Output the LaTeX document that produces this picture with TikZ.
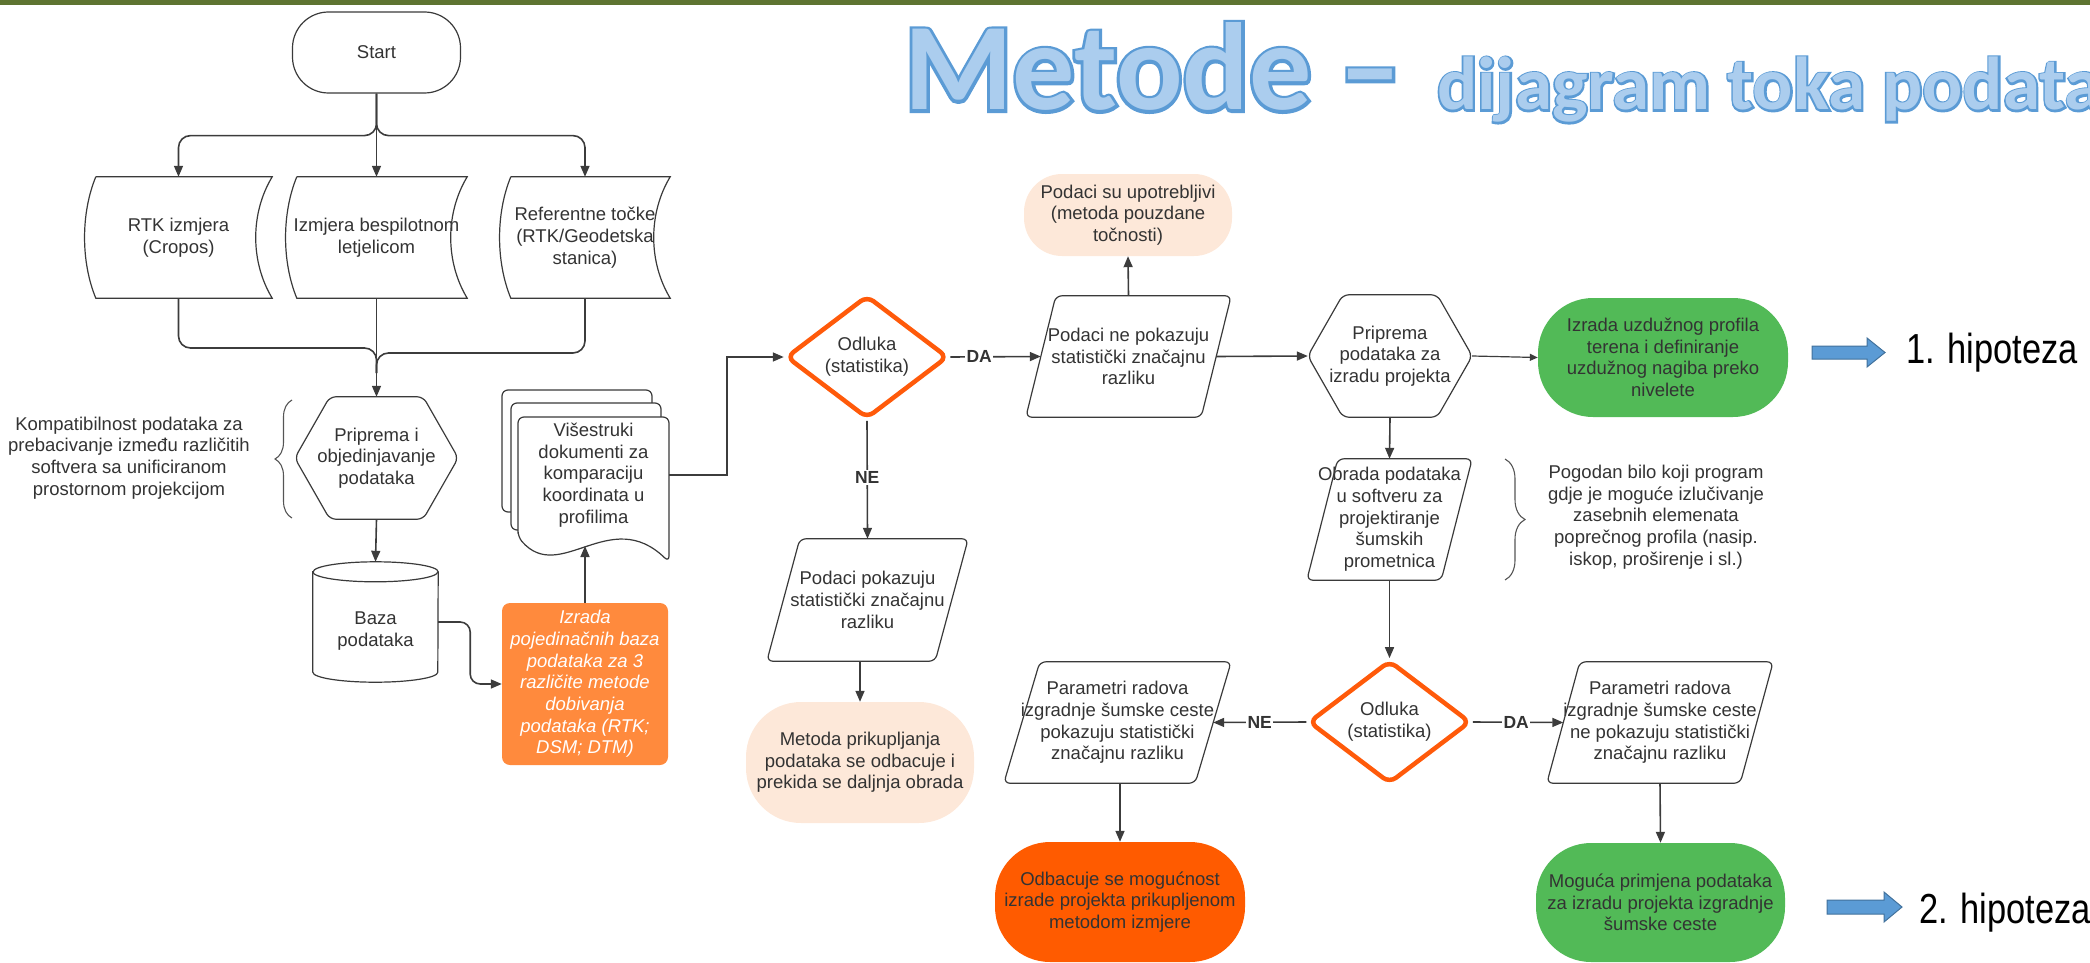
\documentclass[tikz,border=0pt]{standalone}
\usepackage{fontspec}
\setmainfont{Liberation Sans}
\newfontfamily\hipfont{Liberation Sans}[FakeStretch=0.82]
\newfontfamily\titlefillfont{Carlito}
\newfontfamily\titlelinefont{Carlito}[BoldFeatures={FakeBold=5}]
\usetikzlibrary{arrows.meta,shapes.geometric,decorations.pathreplacing,calc}
\pgfdeclarelayer{bg}
\pgfsetlayers{bg,main}
\definecolor{txtc}{HTML}{333333}
\definecolor{linec}{HTML}{3C3C3C}
\definecolor{shapec}{HTML}{3A3A3A}
\definecolor{barc}{HTML}{5E7431}
\definecolor{peach}{HTML}{FDE8D9}
\definecolor{orgbox}{HTML}{FF8A3D}
\definecolor{orgdark}{HTML}{FF5B00}
\definecolor{orgline}{HTML}{FF5A0A}
\definecolor{greenc}{HTML}{52BA57}
\definecolor{tfill}{HTML}{ABCDEE}
\definecolor{tline}{HTML}{5B9BD5}
\definecolor{arrfill}{HTML}{5B9BD5}
\definecolor{arrline}{HTML}{41719C}
\definecolor{bracec}{HTML}{555555}
\tikzset{
 txt/.style={font=\fontsize{18.5}{21.7}\selectfont, text=txtc, align=center, inner sep=0pt},
 shapeline/.style={draw=shapec, line width=1.2pt},
 conn/.style={draw=linec, line width=1.6pt, -{Triangle[length=11pt,width=9pt]}},
 connsmall/.style={draw=linec, line width=1.2pt, -{Triangle[length=8pt,width=7pt]}},
 plainline/.style={draw=linec, line width=1.6pt},
 lbl/.style={font=\fontsize{17.5}{20}\selectfont\bfseries, text=txtc, fill=white, inner sep=1.5pt},
 decide/.style={txt, diamond, draw=orgline, line width=4.5pt, rounded corners=8pt, minimum width=162pt, minimum height=120pt, fill=white},
 bracestyle/.style={draw=bracec, line width=1.1pt, decorate, decoration={brace, amplitude=#1, aspect=0.5}},
 blockarrow/.style={fill=arrfill, draw=arrline, line width=1pt},
 hiptext/.style={anchor=base west, inner sep=0pt, text=black, font=\hipfont\fontsize{42}{44}\selectfont},
 titlebase/.style={anchor=base west, inner sep=0pt},
}
\newcommand\storeddata[1]{\draw[shapeline] ([xshift=11pt]#1.north west) -- (#1.north east)
 .. controls ($(#1.north east)!0.3!(#1.south east)+(-22,0)$) and ($(#1.north east)!0.7!(#1.south east)+(-22,0)$) .. (#1.south east)
 -- ([xshift=11pt]#1.south west)
 .. controls ($(#1.south west)!0.3!(#1.north west)+(-4,0)$) and ($(#1.south west)!0.7!(#1.north west)+(-4,0)$) .. ([xshift=11pt]#1.north west);}
\newcommand\hexshape[2]{\draw[shapeline, rounded corners=6pt] (#1.west) -- ([xshift=#2]#1.north west) -- ([xshift=-#2]#1.north east) -- (#1.east) -- ([xshift=-#2]#1.south east) -- ([xshift=#2]#1.south west) -- cycle;}
\newcommand\plgshape[2]{\draw[shapeline, rounded corners=6pt] ([xshift=#2]#1.north west) -- (#1.north east) -- ([xshift=-#2]#1.south east) -- (#1.south west) -- cycle;}
\begin{document}
\begin{tikzpicture}[x=1pt,y=-1pt]
\useasboundingbox (0,0) rectangle (2090,963);
\clip (0,0) rectangle (2090,963);
\fill[barc] (0,0) rectangle (2090,5);

% title
\node[titlebase, text=tline] (titleAline) at (904,110) {\titlelinefont\bfseries\fontsize{124}{130}\selectfont Metode –};
\node[titlebase, text=tfill] (titleA) at (904,110) {\titlefillfont\bfseries\fontsize{124}{130}\selectfont Metode –};
\node[titlebase, text=tline] (titleBline) at (1437,110) {\titlelinefont\bfseries\fontsize{75}{80}\selectfont dijagram toka podata};
\node[titlebase, text=tfill] (titleB) at (1437,110) {\titlefillfont\bfseries\fontsize{75}{80}\selectfont dijagram toka podata};

% left column
\node[txt, shapeline, rounded corners=36pt, minimum width=168pt, minimum height=81pt] (start) at (376.5,52.5) {Start};
\node[txt, minimum width=187pt, minimum height=121pt] (rtk) at (178.5,237.5) {RTK izmjera\\(Cropos)};
\node[txt, minimum width=181pt, minimum height=121pt] (uav) at (376.5,237.5) {Izmjera bespilotnom\\letjelicom};
\node[txt, minimum width=170pt, minimum height=121pt] (ref) at (585,237.5) {Referentne točke\\(RTK/Geodetska\\stanica)};
\storeddata{rtk}
\storeddata{uav}
\storeddata{ref}

\node[txt, minimum width=163pt, minimum height=122pt] (prep) at (376.5,458) {Priprema i\\objedinjavanje\\podataka};
\hexshape{prep}{35pt}
\node[txt] (note1) at (129,458) {Kompatibilnost podataka za\\prebacivanje između različitih\\softvera sa unificiranom\\prostornom projekcijom};
\draw[bracestyle=17pt] (292,518) -- (292,400);

\node[txt, minimum width=125pt, minimum height=120pt] (baza) at (375.5,622) {};
\node[txt] (bazatxt) at (375.5,631) {Baza\\podataka};
\begin{pgfonlayer}{bg}
\draw[shapeline, fill=white] ([yshift=-10pt]baza.north west) -- ([yshift=10pt]baza.south west) arc[start angle=180, end angle=0, x radius=62.5, y radius=10] -- ([yshift=-10pt]baza.north east) arc[start angle=0, end angle=-180, x radius=62.5, y radius=10] -- cycle;
\draw[shapeline] ([yshift=-10pt]baza.north west) arc[start angle=180, end angle=0, x radius=62.5, y radius=10];
\end{pgfonlayer}

\node[txt, fill=orgbox, rounded corners=8pt, minimum width=166pt, minimum height=162pt, text=white, font=\fontsize{18.5}{21.7}\selectfont\itshape] (izrada) at (585,684) {Izrada\\pojedinačnih baza\\podataka za 3\\različite metode\\dobivanja\\podataka (RTK;\\DSM; DTM)};

\node[txt, minimum width=151pt, minimum height=116pt] (multi) at (593.5,475) {Višestruki\\dokumenti za\\komparaciju\\koordinata u\\profilima};
\begin{pgfonlayer}{bg}
\draw[shapeline, fill=white, rounded corners=6pt] (502,512) -- (502,390) -- (652,390) -- (652,512) -- cycle;
\draw[shapeline, fill=white, rounded corners=6pt] (511,530) -- (511,403) -- (661,403) -- (661,530) -- cycle;
\draw[shapeline, fill=white, rounded corners=6pt] (518,537) -- (518,417) -- (669,417) -- (669,562) .. controls (610,505) and (560,585) .. (518,537) -- cycle;
\end{pgfonlayer}
\coordinate (wave) at (585,546);

% middle
\node[decide] (d1) at (867,357) {Odluka\\(statistika)};
\node[txt, minimum width=205pt, minimum height=121pt] (p1) at (1128.5,356.5) {Podaci ne pokazuju\\statistički značajnu\\razliku};
\plgshape{p1}{30pt}
\node[txt, fill=peach, rounded corners=38pt, minimum width=208pt, minimum height=82pt] (upo) at (1128,215) {Podaci su upotrebljivi\\(metoda pouzdane\\točnosti)};
\node[txt, minimum width=201pt, minimum height=122pt] (p2) at (867.5,600) {Podaci pokazuju\\statistički značajnu\\razliku};
\plgshape{p2}{33pt}
\node[txt, fill=peach, rounded corners=55pt, minimum width=228pt, minimum height=121pt] (metoda) at (860,762.5) {Metoda prikupljanja\\podataka se odbacuje i\\prekida se daljnja obrada};

% right
\node[txt, minimum width=164pt, minimum height=122pt] (hex2) at (1390,356) {Priprema\\podataka za\\izradu projekta};
\hexshape{hex2}{35pt}
\node[txt, fill=greenc, rounded corners=55pt, minimum width=250pt, minimum height=119pt] (g1) at (1663,357.5) {Izrada uzdužnog profila\\terena i definiranje\\uzdužnog nagiba preko\\nivelete};
\node[txt, minimum width=165pt, minimum height=121pt] (p3) at (1389.5,519.5) {Obrada podataka\\u softveru za\\projektiranje\\šumskih\\prometnica};
\plgshape{p3}{31pt}
\node[txt] (note2) at (1656,517) {Pogodan bilo koji program\\gdje je moguće izlučivanje\\zasebnih elemenata\\poprečnog profila (nasip.\\iskop, proširenje i sl.)};
\draw[bracestyle=20pt] (1505,459) -- (1505,580);
\node[decide] (d2) at (1389.5,722) {Odluka\\(statistika)};
\node[txt, minimum width=227pt, minimum height=121pt] (p4) at (1117.5,722.5) {Parametri radova\\izgradnje šumske ceste\\pokazuju statistički\\značajnu razliku};
\plgshape{p4}{36pt}
\node[txt, minimum width=226pt, minimum height=121pt] (p5) at (1660,722.5) {Parametri radova\\izgradnje šumske ceste\\ne pokazuju statistički\\značajnu razliku};
\plgshape{p5}{33pt}
\node[txt, fill=orgdark, rounded corners=55pt, minimum width=250pt, minimum height=120pt] (odb) at (1120,902) {Odbacuje se mogućnost\\izrade projekta prikupljenom\\metodom izmjere};
\node[txt, fill=greenc, rounded corners=55pt, minimum width=249pt, minimum height=119pt] (g2) at (1660.5,902.5) {Moguća primjena podataka\\za izradu projekta izgradnje\\šumske ceste};

% hypotheses
\draw[blockarrow] (1812,346) -- (1867,346) -- (1867,338) -- (1885,352.5) -- (1867,367) -- (1867,359) -- (1812,359) -- cycle;
\node[hiptext] (hip1) at (1906,363) {1. hipoteza};
\draw[blockarrow] (1827,900) -- (1884,900) -- (1884,892) -- (1902,907) -- (1884,922) -- (1884,914) -- (1827,914) -- cycle;
\node[hiptext] (hip2) at (1919,923) {2. hipoteza};

% connectors
\draw[conn, rounded corners=12pt] (start.south) -- ++(0,42) -| (rtk.north);
\draw[conn, rounded corners=12pt] (start.south) -- ++(0,42) -| (ref.north);
\draw[conn] (start.south) -- (uav.north);
\coordinate (jl) at (376.5,348);
\coordinate (jr) at (376.5,353);
\draw[plainline, rounded corners=12pt] (rtk.south) |- (jl) -- ++(0,25);
\draw[plainline, rounded corners=12pt] (ref.south) |- (jr) -- ++(0,20);
\draw[conn] (uav.south) -- (prep.north);
\draw[conn] (prep.south) -- (baza.north);
\draw[conn, rounded corners=10pt] (baza.east) -- ++(32,0) |- (izrada.west);
\draw[conn] (izrada.north) -- (wave);
\draw[conn] (multi.east) -- ++(58,0) |- (d1.west);
\draw[conn] (d1.east) -- node[lbl, pos=0.32]{DA} ([xshift=15pt]p1.west);
\draw[conn] (d1.south) -- node[lbl, pos=0.48]{NE} (p2.north);
\draw[conn] (p2.south -| metoda.north) -- (metoda.north);
\draw[conn] (p1.north) -- (upo.south);
\draw[conn] ([xshift=-15pt]p1.east) -- (hex2.west);
\draw[connsmall] (hex2.east) -- (g1.west);
\draw[conn] (hex2.south) -- (p3.north);
\draw[conn] (p3.south) -- (d2.north);
\draw[conn] (d2.west) -- node[lbl, pos=0.5]{NE} ([xshift=-18pt]p4.east);
\draw[conn] (d2.east) -- node[lbl, pos=0.48]{DA} ([xshift=16.5pt]p5.west);
\draw[conn] (p4.south -| odb.north) -- (odb.north);
\draw[conn] (p5.south) -- (g2.north);
\end{tikzpicture}
\end{document}
